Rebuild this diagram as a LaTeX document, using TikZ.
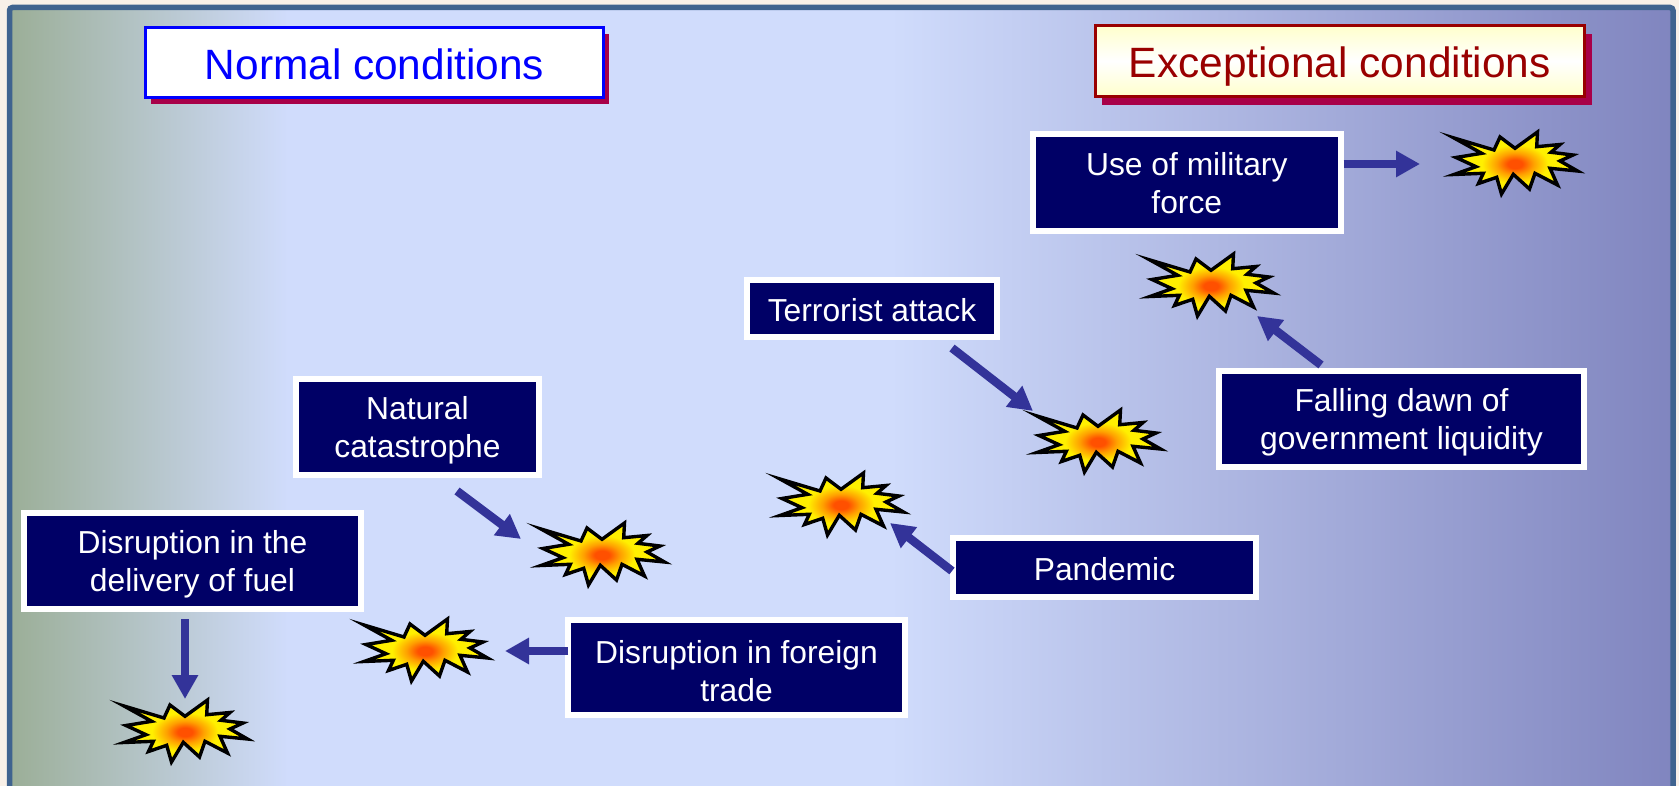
\documentclass[tikz,border=0pt]{standalone}
\usepackage{fontspec}
\setmainfont{Liberation Sans}
\usetikzlibrary{arrows.meta,calc,shadows}
\definecolor{pagebg}{HTML}{F8F0E8}
\definecolor{framec}{HTML}{3F638F}
\definecolor{bgA}{HTML}{9BAE97}
\definecolor{bgB}{HTML}{D0DCFC}
\definecolor{bgC}{HTML}{8085BF}
\definecolor{navy}{HTML}{000066}
\definecolor{arrowc}{HTML}{333399}
\definecolor{shadowc}{HTML}{A80048}
\definecolor{darkred}{HTML}{990000}
\definecolor{paley}{HTML}{FFFFCC}
\definecolor{burstO}{HTML}{FF5000}
\definecolor{burstM}{HTML}{FFA000}
\definecolor{burstY}{HTML}{FFF000}
\newcommand\topgap[1]{\rule{0pt}{#1}}
\pgfdeclarehorizontalshading{panelshade}{100bp}{color(0bp)=(bgA); color(25bp)=(bgA); color(33.38bp)=(bgB); color(51.45bp)=(bgB); color(75bp)=(bgC); color(100bp)=(bgC)}
\pgfdeclareradialshading{burstshade}{\pgfpoint{0bp}{0bp}}{color(0bp)=(burstO); color(4bp)=(burstO); color(10bp)=(burstM); color(18bp)=(burstY); color(50bp)=(burstY)}
\tikzset{
  infobox/.style={draw=white,line width=6pt,fill=navy,text=white,align=center,inner sep=0pt,outer sep=0pt,
    font=\fontsize{31.8}{38}\selectfont},
  headbox/.style={line width=3pt,inner sep=0pt,outer sep=0pt,font=\fontsize{42.4}{50}\selectfont,
    text height=38pt,text depth=4.6pt},
  flowarrow/.style={draw=arrowc,line width=8.5pt,-{Triangle[length=24pt,width=25pt]}},
  burstsite/.style={inner sep=0pt,outer sep=0pt,minimum size=1pt},
  burstpath/.pic={
    \def\burstoutline{(-61,-26) -- (-21,-14) -- (-15,-27) -- (0,-15.7) -- (22.5,-32) -- (21.7,-17.3) -- (45,-19.5) -- (36,-11.7) -- (58,-9) -- (45,-3) -- (62.5,7) -- (35,4.3) -- (42.5,21) -- (20,9.3) -- (14.5,25) -- (-1.7,10.3) -- (-13.5,30) -- (-18.3,13.3) -- (-36.5,19.5) -- (-31.7,9.3) -- (-61,10.5) -- (-39,2.7) -- (-59,-6.5) -- (-33.3,-10.7) -- cycle}
    \fill[burstY] \burstoutline;
    \begin{scope}
      \clip \burstoutline;
      \shade[shading=burstshade] (0,0) ellipse [x radius=46,y radius=27];
    \end{scope}
    \draw[black,line width=3.4pt,miter limit=12,line join=miter] \burstoutline;
  }
}
\begin{document}
\begin{tikzpicture}[x=1pt,y=-1pt]
\useasboundingbox (0,0) rectangle (1679,786);
\fill[pagebg] (0,0) rectangle (1679,786);
% panel
\shade[shading=panelshade] (9.5,7.5) rectangle (1673,800);
\draw[framec,line width=5.5pt,rounded corners=3pt] (9.5,800) -- (9.5,7.5) -- (1673,7.5) -- (1673,800);
% bursts
\node[burstsite] (bA) at (1515,164) {};
\node[burstsite] (bB) at (1211,286) {};
\node[burstsite] (bC) at (1098,442) {};
\node[burstsite] (bD) at (841,505) {};
\node[burstsite] (bE) at (602,555) {};
\node[burstsite] (bF) at (425,651) {};
\node[burstsite] (bG) at (185,732) {};
\foreach \b in {bA,bB,bC,bD,bE,bF,bG}{\pic at (\b) {burstpath};}
% boxes
\node[infobox,minimum width=307.5pt,minimum height=97pt] (military) at (1186.75,182.5) {\topgap{25pt}Use of military\\force};
\node[infobox,minimum width=365pt,minimum height=96pt] (falling) at (1401.5,419) {\topgap{29.5pt}Falling dawn of\\government liquidity};
\node[infobox,minimum width=250pt,minimum height=57pt] (terror) at (872,308.5) {\topgap{27pt}Terrorist attack};
\node[infobox,minimum width=303pt,minimum height=59pt] (pandemic) at (1104.5,567.5) {\topgap{27pt}Pandemic};
\node[infobox,minimum width=337pt,minimum height=95pt] (foreign) at (736.5,667.5) {\topgap{29.5pt}Disruption in foreign\\trade};
\node[infobox,minimum width=243pt,minimum height=96pt] (natural) at (417.5,427) {\topgap{29.5pt}Natural\\catastrophe};
\node[infobox,minimum width=337pt,minimum height=96pt] (fuel) at (192.5,561) {\topgap{29.5pt}Disruption in the\\delivery of fuel};
% arrows
\draw[flowarrow] ($(military.east)+(3,-18.5)$) -- ($(bA)+(-95,0)$);
\draw[flowarrow] ($(falling.center)+(-80.5,-54)$) -- ($(bB)+(46,30)$);
\draw[flowarrow] ($(terror.center)+(80,39.5)$) -- ($(bC)+(-65,-31)$);
\draw[flowarrow] ($(pandemic.center)+(-152.5,3.5)$) -- ($(bD)+(49,18)$);
\draw[flowarrow] ($(foreign.west)+(0,-16.5)$) -- ($(bF)+(80,0)$);
\draw[flowarrow] ($(natural.center)+(39.5,64)$) -- ($(bE)+(-81,-16)$);
\draw[flowarrow] ($(fuel.center)+(-7.5,58)$) -- ($(bG)+(0,-33)$);
% headings
\node[headbox,general shadow={fill=shadowc,shadow xshift=5.5pt,shadow yshift=-6.5pt},draw=blue,fill=white,text=blue,minimum width=458pt,minimum height=70pt] (normal) at (374.5,62.5) {Normal conditions};
\node[headbox,general shadow={fill=shadowc,shadow xshift=7pt,shadow yshift=-8.5pt},draw=darkred,top color=paley,bottom color=paley,middle color=white,text=darkred,minimum width=489.5pt,minimum height=71pt] (except) at (1339.75,61) {Exceptional conditions};
\end{tikzpicture}
\end{document}
